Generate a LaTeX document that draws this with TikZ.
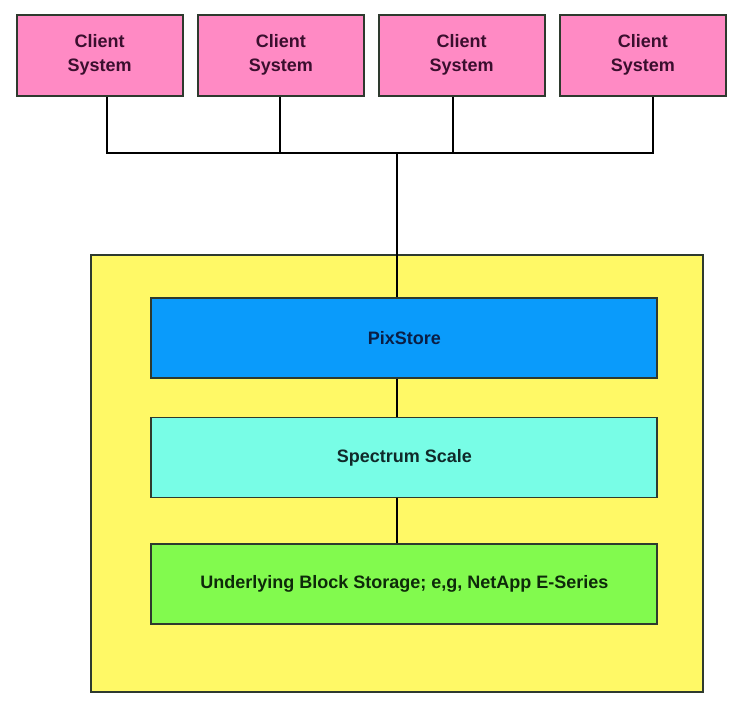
\documentclass[tikz,border=0pt]{standalone}
\usepackage{fontspec}
\setmainfont{Liberation Sans}
\definecolor{pinkc}{HTML}{FF8AC4}
\definecolor{yellowc}{HTML}{FFF966}
\definecolor{bluec}{HTML}{0A9BFB}
\definecolor{cyanc}{HTML}{78FDE6}
\definecolor{greenc}{HTML}{82FA4E}
\definecolor{edgec}{HTML}{2E3A2E}
\definecolor{ctext}{HTML}{3A0F2E}
\definecolor{ptext}{HTML}{0A1E45}
\definecolor{stext}{HTML}{102A2A}
\definecolor{utext}{HTML}{0E2A0A}
\begin{document}
\begin{tikzpicture}[x=1pt,y=-1pt,
  box/.style={draw=edgec,line width=1.8pt,inner sep=0pt,font=\fontsize{18}{24}\selectfont\bfseries,align=center},
  client/.style={box,fill=pinkc,minimum width=166pt,minimum height=81pt,text=ctext},
  layer/.style={box,minimum width=506pt,minimum height=80pt},
  wire/.style={line width=2pt,black}]
\useasboundingbox (0,0) rectangle (743,706);
\fill[white] (0,0) rectangle (743,706);
% outer yellow container
\node[draw=edgec,line width=1.8pt,fill=yellowc,minimum width=612pt,minimum height=437pt,inner sep=0pt] (outer) at (396.7,473.5) {};
% clients
\node[client] (c1) at (99.7,55.2) {Client\\System};
\node[client] (c2) at (280.8,55.2) {Client\\System};
\node[client] (c3) at (461.7,55.2) {Client\\System};
\node[client] (c4) at (642.8,55.2) {Client\\System};
% layers
\node[layer,fill=bluec,text=ptext] (pix) at (404.3,337.7) {PixStore};
\node[layer,fill=cyanc,text=stext] (spec) at (404.3,457.5) {Spectrum Scale};
\node[layer,fill=greenc,text=utext] (under) at (404.3,583.8) {Underlying Block Storage; e,g, NetApp E-Series};
% bus coordinates
\coordinate (b1) at (107.3,152.5);
\coordinate (b2) at (280,152.5);
\coordinate (b3) at (453.3,152.5);
\coordinate (b4) at (653.3,152.5);
\coordinate (bt) at (396.8,152.5);
\draw[wire] (c1.south -| b1) -- (b1);
\draw[wire] (c2.south -| b2) -- (b2);
\draw[wire] (c3.south -| b3) -- (b3);
\draw[wire] (c4.south -| b4) -- (b4);
\draw[wire,line cap=rect] (b1) -- (b4);
\draw[wire] (bt) -- (pix.north -| bt);
\draw[wire] (pix.south -| bt) -- (spec.north -| bt);
\draw[wire] (spec.south -| bt) -- (under.north -| bt);
\end{tikzpicture}
\end{document}
